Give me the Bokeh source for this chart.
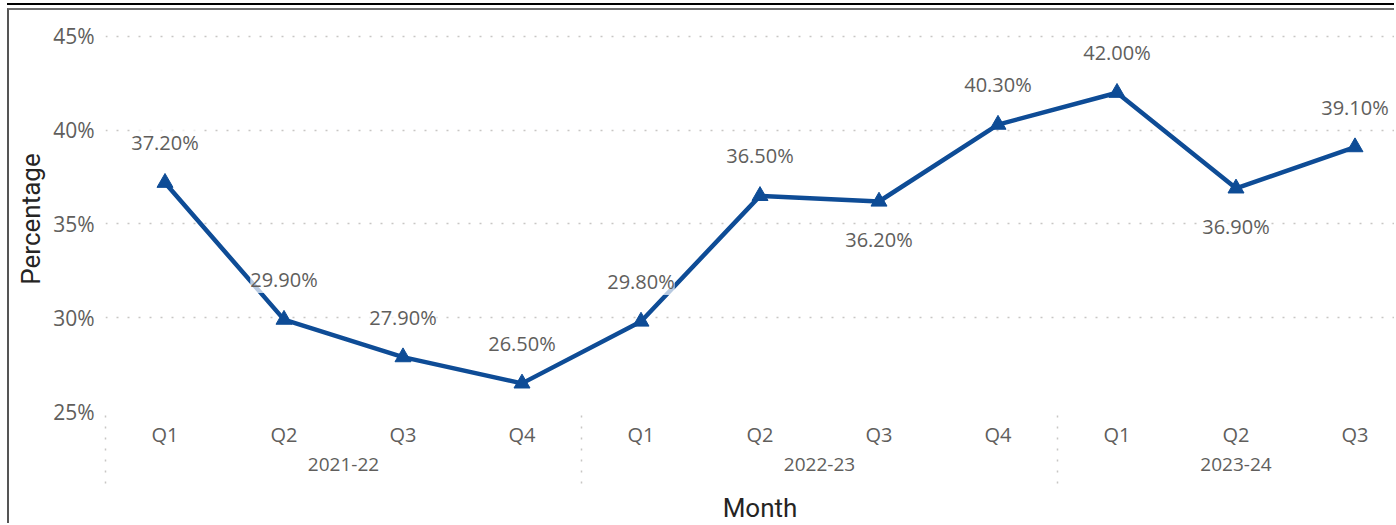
from bokeh.plotting import figure
from bokeh.models import Range1d, FixedTicker, LinearAxis, PrintfTickFormatter, ColumnDataSource
from bokeh.embed import file_html
from bokeh.resources import INLINE
from bokeh.core.properties import value

# ---- data ----
years = ["2021-22", "2022-23", "2023-24"]
quarters_per_year = [4, 4, 3]
quarters = ["Q1", "Q2", "Q3", "Q4", "Q1", "Q2", "Q3", "Q4", "Q1", "Q2", "Q3"]
pct = [37.2, 29.9, 27.9, 26.5, 29.8, 36.5, 36.2, 40.3, 42.0, 36.9, 39.1]
label_side = ["above", "above", "above", "above", "above", "above",
              "below", "above", "above", "below", "above"]
y_ticks = [25, 30, 35, 40, 45]

# ---- derived positions ----
xs = [i + 0.5 for i in range(len(pct))]
starts = []
acc = 0
for n in quarters_per_year:
    starts.append(float(acc))
    acc += n
year_centers = [s + n / 2.0 for s, n in zip(starts, quarters_per_year)]
labels = [f"{v:.2f}%" for v in pct]
offsets = [-40 if s == "above" else 38 for s in label_side]

src = ColumnDataSource(dict(x=xs, y=pct, label=labels, off=offsets))

TICK = "#605E5C"
TITLE = "#252423"
LINE = "#0E4C96"
GRID = "#c8c6c4"

W, H = 1387, 515
p = figure(width=W, height=H, output_backend="svg", toolbar_location=None,
           x_range=Range1d(0, (W - 96) / 119.0), y_range=Range1d(25, 25 + 386 / 18.8),
           x_axis_location=None, min_border_left=96, min_border_right=0,
           min_border_top=16, min_border_bottom=113)
p.styles = {"margin-left": "7px", "margin-top": "8px",
            "border-left": "2px solid #555555", "border-top": "2px solid #6e6e6e",
            "box-shadow": "0 -3px 0 0 #ffffff, 0 -5px 0 0 #000000"}
p.outline_line_color = None
p.background_fill_color = "white"
p.border_fill_color = "white"

# y axis
yax = p.yaxis[0]
yax.ticker = FixedTicker(ticks=y_ticks)
yax.formatter = PrintfTickFormatter(format="%d%%")
yax.axis_line_color = None
yax.major_tick_line_color = None
yax.minor_tick_line_color = None
yax.major_label_standoff = 5
yax.major_label_text_font = "Open Sans"
yax.major_label_text_font_size = "21px"
yax.major_label_text_color = TICK
yax.axis_label = "Percentage"
yax.axis_label_text_font = "Roboto"
yax.axis_label_text_font_style = "normal"
yax.axis_label_text_font_size = "26px"
yax.axis_label_text_color = TITLE
yax.axis_label_standoff = 4

p.xgrid.visible = False
p.ygrid.ticker = FixedTicker(ticks=y_ticks)
p.ygrid.grid_line_color = GRID
p.ygrid.grid_line_dash = "2 9"
p.ygrid.grid_line_width = 1.5

# quarter axis
qax = LinearAxis(ticker=FixedTicker(ticks=xs),
                 major_label_overrides={x: q for x, q in zip(xs, quarters)})
qax.axis_line_color = None
qax.major_tick_line_color = None
qax.minor_tick_line_color = None
qax.major_tick_out = 0
qax.minor_tick_out = 0
qax.major_label_standoff = 9
qax.major_label_text_font = "Open Sans"
qax.major_label_text_font_size = "20px"
qax.major_label_text_color = TICK
p.add_layout(qax, "below")

# year axis
yrax = LinearAxis(ticker=FixedTicker(ticks=year_centers),
                  major_label_overrides={c: y for c, y in zip(year_centers, years)})
yrax.axis_line_color = None
yrax.major_tick_line_color = None
yrax.minor_tick_line_color = None
yrax.major_tick_out = 0
yrax.minor_tick_out = 0
yrax.major_label_standoff = 7
yrax.major_label_text_font = "Open Sans"
yrax.major_label_text_font_size = "19px"
yrax.major_label_text_color = TICK
p.add_layout(yrax, "below")

# title axis ("Month"); its minor ticks draw the year separators
span_center = sum(quarters_per_year) / 2.0
tax = LinearAxis(ticker=FixedTicker(ticks=[span_center], minor_ticks=starts),
                 major_label_overrides={span_center: "Month"})
tax.axis_line_color = None
tax.major_tick_line_color = None
tax.major_tick_out = 0
tax.minor_tick_line_color = GRID
tax.minor_tick_line_dash = "2 9"
tax.minor_tick_line_width = 1.5
tax.minor_tick_in = 63
tax.minor_tick_out = 10
tax.major_label_standoff = 9
tax.major_label_text_font = "Roboto"
tax.major_label_text_font_size = "26px"
tax.major_label_text_color = TITLE
p.add_layout(tax, "below")

# series
p.line("x", "y", source=src, line_color=LINE, line_width=4.5, line_join="round")
p.scatter("x", "y", source=src, marker="triangle", size=16, fill_color=LINE, line_color=LINE)
p.text("x", "y", text="label", source=src, y_offset="off",
       text_align="center", text_baseline="middle",
       text_font=value("Open Sans"), text_font_size="20px", text_color=TICK,
       background_fill_color="white", background_fill_alpha=0.7)

open("out.html", "w").write(file_html(p, INLINE))
